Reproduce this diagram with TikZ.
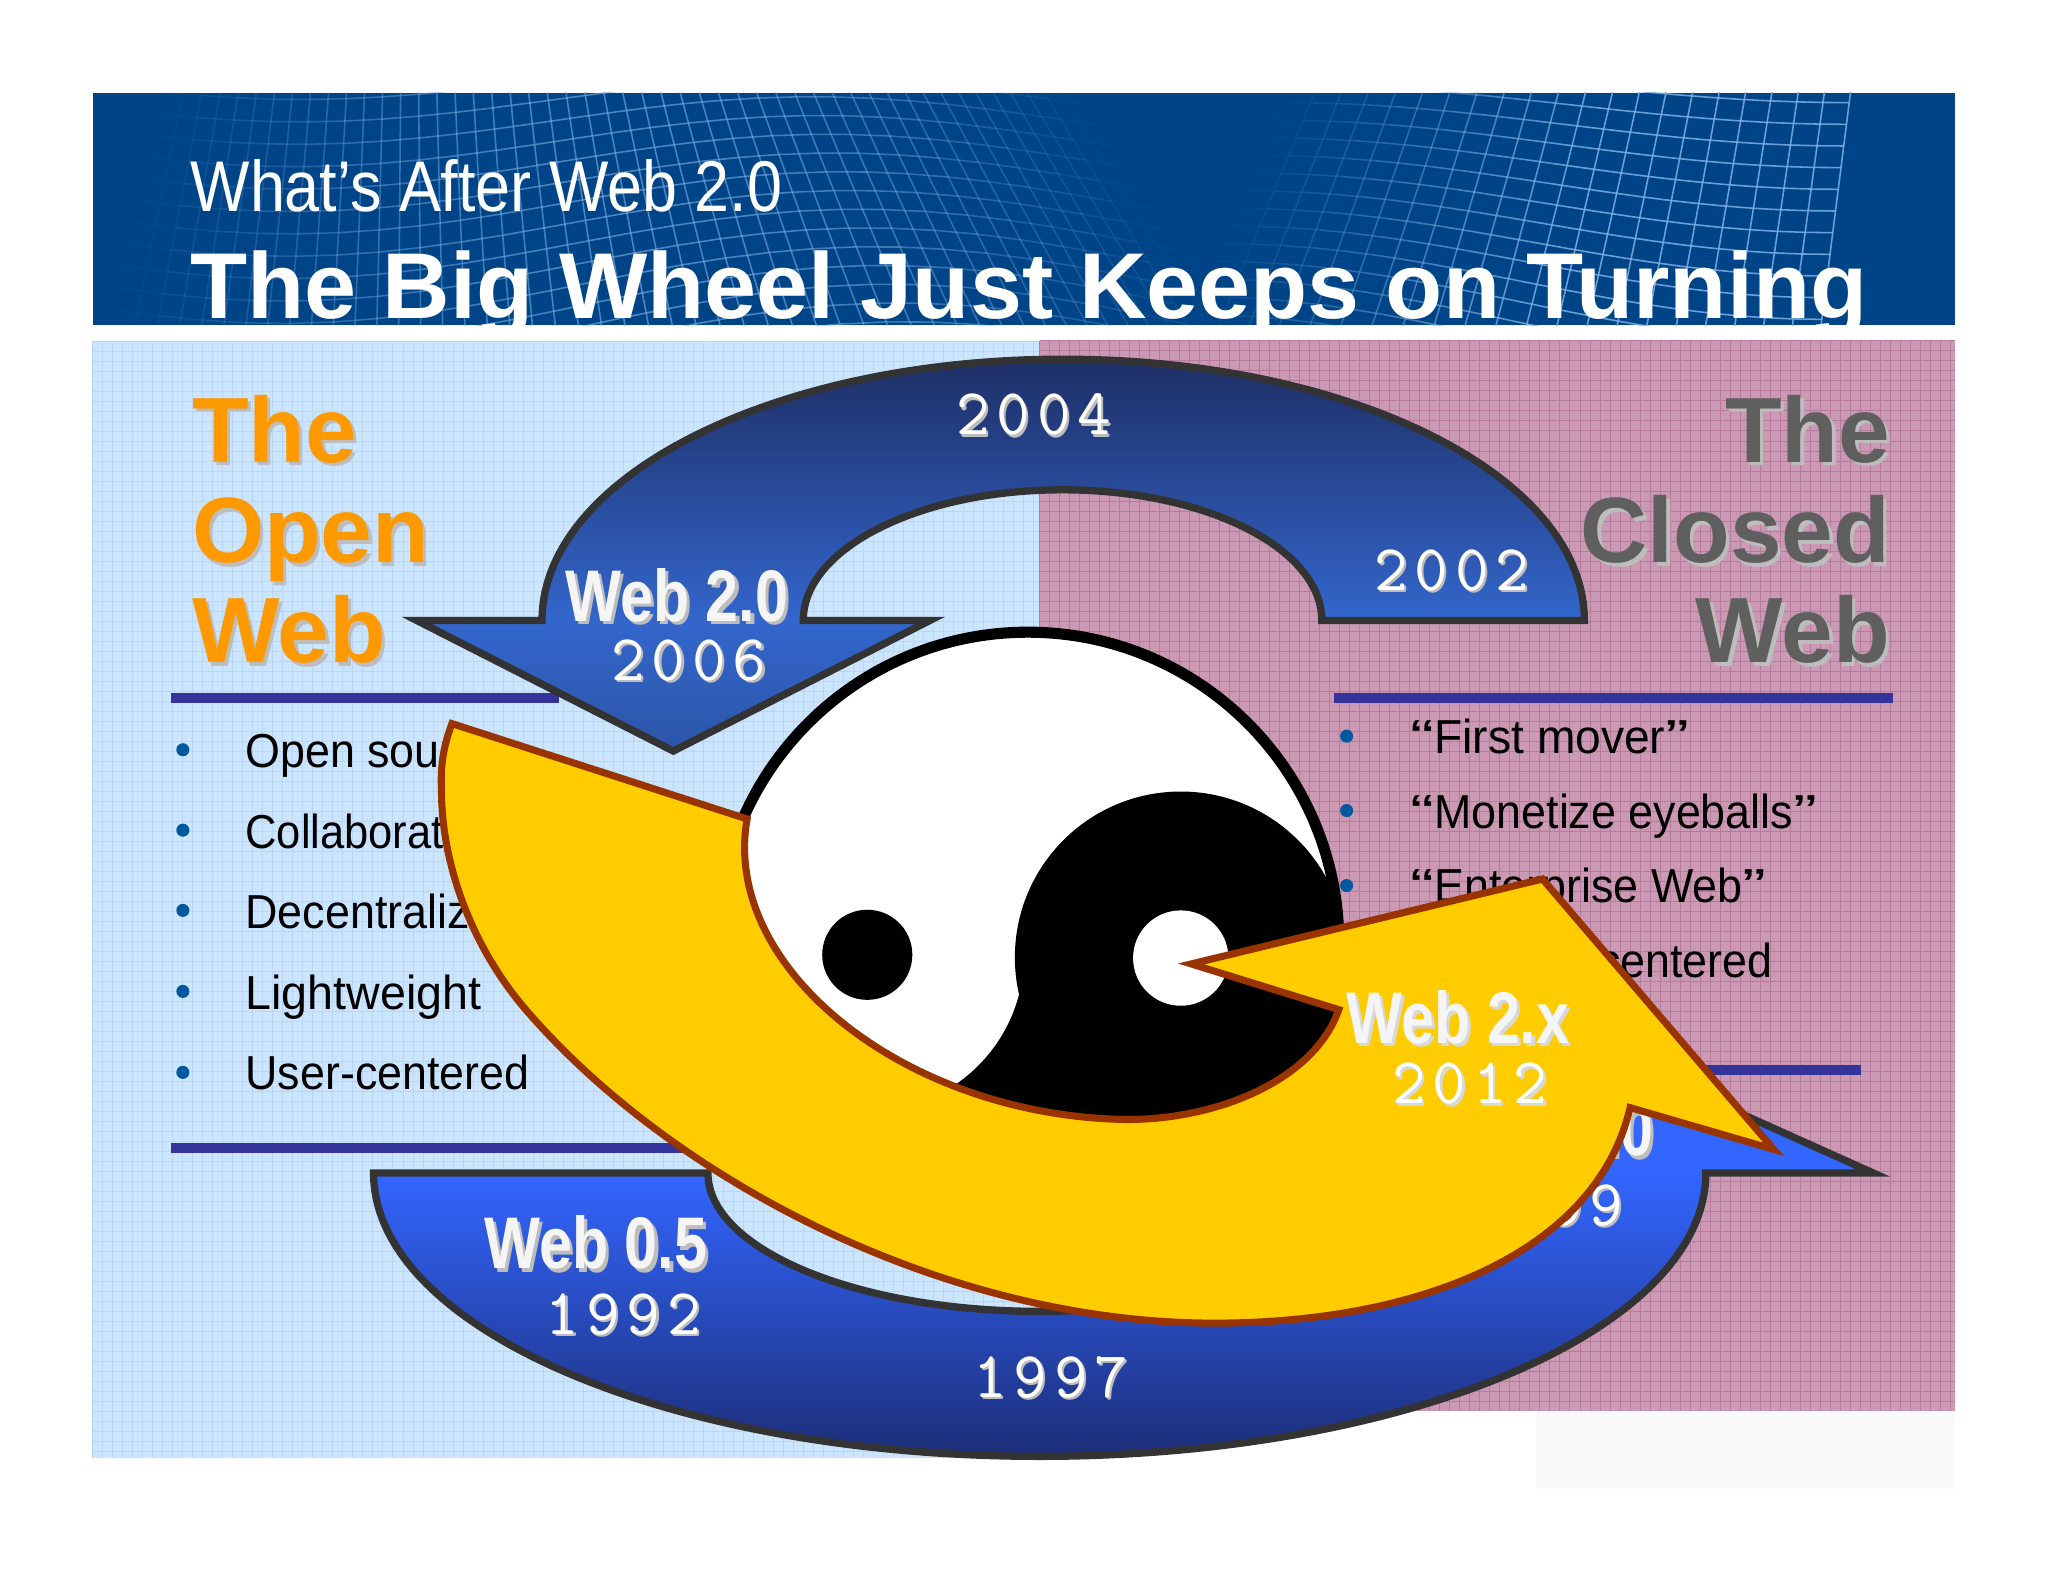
\documentclass[tikz,border=0pt]{standalone}
\usepackage{fontspec}
\setmainfont{Liberation Sans}
\newfontfamily\subfam[FakeStretch=0.875]{Liberation Sans}
\newfontfamily\listfam[FakeStretch=0.94]{Liberation Sans}
\newfontfamily\webfam[FakeStretch=0.81]{Liberation Sans}
\newcommand{\titlef}{\fontsize{35.8}{36}\selectfont\bfseries}
\newcommand{\subf}{\subfam\fontsize{27.5}{28}\selectfont}
\newcommand{\headf}{\fontsize{35.5}{36}\selectfont\bfseries}
\newcommand{\listf}{\listfam\fontsize{18.25}{19}\selectfont}
\newcommand{\webf}{\webfam\fontsize{28}{29}\selectfont\bfseries}
\newcommand{\yearf}{\ttfamily\fontsize{25}{26}\selectfont}
\newcommand{\yr}[4]{\makebox[15.5pt][l]{#1}\makebox[15.5pt][l]{#2}\makebox[15.5pt][l]{#3}#4}
\newcommand{\opq}{\scalebox{1.6}[1]{“}}
\newcommand{\clq}{\scalebox{1.6}[1]{”}}
\definecolor{hdrblue}{HTML}{004488}
\definecolor{meshblue}{HTML}{7FB0E6}
\definecolor{panelL}{HTML}{CCE5FF}
\definecolor{gridL}{HTML}{B9D6F7}
\definecolor{panelR}{HTML}{CC99B5}
\definecolor{gridR}{HTML}{B67A9C}
\definecolor{barblue}{HTML}{333399}
\definecolor{bulletblue}{HTML}{00589E}
\definecolor{headorange}{HTML}{FF9900}
\definecolor{headgray}{HTML}{5F5F5F}
\definecolor{shadowgray}{HTML}{BDBDBD}
\definecolor{lightshadow}{HTML}{D8D8D8}
\definecolor{arrowyellow}{HTML}{FFCC00}
\definecolor{arrowbrown}{HTML}{993300}
\definecolor{arrowline}{HTML}{333333}
\definecolor{faintbox}{HTML}{F9F8FB}
\definecolor{blueA}{HTML}{1E2F66}
\definecolor{blueB}{HTML}{3366CC}
\definecolor{blueC}{HTML}{2C55A8}
\definecolor{blueD}{HTML}{3366FF}
\definecolor{blueE}{HTML}{1C2E78}
\pgfdeclareverticalshading{toparc}{100bp}{color(0bp)=(blueC); color(25bp)=(blueC); color(41.6bp)=(blueB); color(75bp)=(blueA); color(100bp)=(blueA)}
\pgfdeclareverticalshading{botarc}{100bp}{color(0bp)=(blueE); color(25bp)=(blueE); color(57.7bp)=(blueD); color(75bp)=(blueD); color(100bp)=(blueD)}
\pgfmathdeclarefunction{rsx}{2}{\pgfmathparse{1000+418*#1-(30+52*(1-#1))*#2}}
\pgfmathdeclarefunction{rsy}{2}{\pgfmathparse{50+215*#2+(12+22*#2)*sin(180*#1-90)}}
\pgfmathdeclarefunction{rso}{1}{\pgfmathparse{0.85*min(1,#1*1.8)}}
\pgfmathdeclarefunction{lsx}{2}{\pgfmathparse{130+680*#1+#2*(-54+200*#1)}}
\pgfmathdeclarefunction{lsy}{2}{\pgfmathparse{45+225*#2+(14+20*#2)*sin(330*#1+40)}}
\pgfmathdeclarefunction{lso}{1}{\pgfmathparse{0.6*sin(180*#1)}}
\newcommand{\shadlabel}[8]{% name, anchor, x, y, font, colour, shadow, text
  \node[txtnode,anchor=#2,text=#7] (#1-s) at (#3+2.5,#4+2.5) {#5#8};
  \node[txtnode,anchor=#2,text=#6] (#1) at (#3,#4) {#5#8};}
\newcommand{\yrlabel}[5]{% name, x, y, shadow, digits
  \node[txtnode,anchor=base west,text=#4] (#1-s) at (#2+1.8,#3+1.8) {\yearf #5};
  \node[txtnode,anchor=base west,text=white] (#1) at (#2,#3) {\yearf #5};}
\tikzset{
  txtnode/.style={inner sep=0pt,outer sep=0pt},
  meshline/.style={draw=meshblue,line width=0.6pt},
  barrule/.style={fill=barblue},
  bulletdot/.style={fill=bulletblue},
  bluearrow/.style={draw=arrowline,line width=2.8pt,miter limit=10},
  goldarrow/.style={draw=arrowbrown,fill=arrowyellow,line width=2.7pt,miter limit=10},
  listtext/.style={txtnode,anchor=base west,text=black},
}
\begin{document}
\begin{tikzpicture}[x=0.5pt,y=-0.5pt]
\useasboundingbox (0,0) rectangle (1568,1211.2);
\fill[white] (0,0) rectangle (1568,1211.2);
% header
\begin{scope}
\clip (71,71) rectangle (1497,249);
\fill[hdrblue] (71,71) rectangle (1497,249);
\foreach \j in {0,...,15}{
  \pgfmathsetmacro\vv{\j*0.07}
  \foreach \i in {0,...,24}{
    \pgfmathsetmacro\ua{\i*0.04}
    \pgfmathsetmacro\ub{\ua+0.04}
    \pgfmathsetmacro\xa{lsx(\ua,\vv)}\pgfmathsetmacro\ya{lsy(\ua,\vv)}
    \pgfmathsetmacro\xb{lsx(\ub,\vv)}\pgfmathsetmacro\yb{lsy(\ub,\vv)}
    \pgfmathsetmacro\op{lso(\ua+0.02)}
    \draw[meshline,draw opacity=\op] (\xa,\ya) -- (\xb,\yb);
  }
}
\foreach \i in {1,...,49}{
  \pgfmathsetmacro\ua{\i*0.02}
  \pgfmathsetmacro\op{lso(\ua)}
  \foreach \j in {0,...,5}{
    \pgfmathsetmacro\va{\j*0.2}
    \pgfmathsetmacro\vb{\va+0.2}
    \pgfmathsetmacro\xa{lsx(\ua,\va)}\pgfmathsetmacro\ya{lsy(\ua,\va)}
    \pgfmathsetmacro\xb{lsx(\ua,\vb)}\pgfmathsetmacro\yb{lsy(\ua,\vb)}
    \draw[meshline,draw opacity=\op] (\xa,\ya) -- (\xb,\yb);
  }
}
\foreach \j in {0,...,17}{
  \pgfmathsetmacro\vv{\j*0.07}
  \foreach \i in {0,...,19}{
    \pgfmathsetmacro\ua{\i*0.05}
    \pgfmathsetmacro\ub{\ua+0.05}
    \pgfmathsetmacro\xa{rsx(\ua,\vv)}\pgfmathsetmacro\ya{rsy(\ua,\vv)}
    \pgfmathsetmacro\xb{rsx(\ub,\vv)}\pgfmathsetmacro\yb{rsy(\ub,\vv)}
    \pgfmathsetmacro\op{rso(\ua+0.025)}
    \draw[meshline,draw opacity=\op] (\xa,\ya) -- (\xb,\yb);
  }
}
\foreach \i in {1,...,21}{
  \pgfmathsetmacro\ua{\i*0.0476}
  \pgfmathsetmacro\op{rso(\ua)}
  \foreach \j in {0,...,5}{
    \pgfmathsetmacro\va{\j*0.2}
    \pgfmathsetmacro\vb{\va+0.2}
    \pgfmathsetmacro\xa{rsx(\ua,\va)}\pgfmathsetmacro\ya{rsy(\ua,\va)}
    \pgfmathsetmacro\xb{rsx(\ua,\vb)}\pgfmathsetmacro\yb{rsy(\ua,\vb)}
    \draw[meshline,draw opacity=\op] (\xa,\ya) -- (\xb,\yb);
  }
}
\node[txtnode,anchor=base west,text=white] (subtitle) at (146,162) {\subf What’s After Web 2.0};
\node[txtnode,anchor=base west,text=white] (title) at (146,243.6) {\titlef The Big Wheel Just Keeps on Turning};
\end{scope}
% panels
\fill[panelL] (71,261) rectangle (796,1116);
\fill[panelR] (796,261) rectangle (1497,1080.5);
\fill[faintbox] (1176,1080.5) rectangle (1497,1140);
\draw[gridL,line width=0.3pt] \foreach \k in {0,...,94}{ (71+\k*7.66,261) -- ++(0,855) };
\draw[gridL,line width=0.3pt] \foreach \k in {0,...,111}{ (71,261+\k*7.66) -- ++(725,0) };
\draw[gridR,line width=0.35pt] \foreach \k in {0,...,91}{ (796+\k*7.66,261) -- ++(0,819.5) };
\draw[gridR,line width=0.35pt] \foreach \k in {0,...,106}{ (796,261+\k*7.66) -- ++(701,0) };
% headings
\shadlabel{openA}{base west}{147}{354}{\headf}{headorange}{shadowgray}{The}
\shadlabel{openB}{base west}{147}{431}{\headf}{headorange}{shadowgray}{Open}
\shadlabel{openC}{base west}{147}{507.5}{\headf}{headorange}{shadowgray}{Web}
\shadlabel{closedA}{base east}{1447}{354}{\headf}{headgray}{shadowgray}{The}
\shadlabel{closedB}{base east}{1447}{431}{\headf}{headgray}{shadowgray}{Closed}
\shadlabel{closedC}{base east}{1447}{507.5}{\headf}{headgray}{shadowgray}{Web}
% rules
\fill[barrule] (131,530.5) rectangle (428,538);
\fill[barrule] (1021,530.5) rectangle (1449,538);
\fill[barrule] (131,875) rectangle (600,883);
\fill[barrule] (1250,815) rectangle (1425,823);
% lists
\foreach \yy in {574,635.6,697,759,821}{\fill[bulletdot] (140,\yy) circle[radius=5];}
\foreach \yy in {563.6,620.6,678}{\fill[bulletdot] (1031,\yy) circle[radius=5];}
\node[listtext] (l1) at (188,587.7) {\listf Open source};
\node[listtext] (l2) at (188,649.5) {\listf \scalebox{0.97}[1]{Collaborative}};
\node[listtext] (l3) at (188,711) {\listf Decentralized};
\node[listtext] (l4) at (188,772.8) {\listf \scalebox{1.04}[1]{Lightweight}};
\node[listtext] (l5) at (188,834.5) {\listf User-centered};
\node[listtext] (r1) at (1080,577) {\listf \opq\scalebox{1.03}[1]{First mover}\clq};
\node[listtext] (r2) at (1080,634) {\listf \opq Monetize eyeballs\clq};
\node[listtext] (r3) at (1080,691) {\listf \opq Enterprise Web\clq};
\node[listtext,anchor=base east] (r4) at (1357,748) {\listf Vendor-centered};
% top blue arrow
\path[shading=toparc,bluearrow,draw] (415,475) arc[start angle=180,end angle=360,x radius=399,y radius=200] -- (1012,475) arc[start angle=0,end angle=-180,x radius=198.5,y radius=100] -- (712,475) -- (515.5,575) -- (319,475) -- cycle;
\shadlabel{web20}{base west}{433}{476}{\webf}{white!96!black}{shadowgray}{Web 2.0}
\yrlabel{y2006}{468}{521}{shadowgray}{\yr2006}
\yrlabel{y2004}{732}{333}{shadowgray}{\yr2004}
\yrlabel{y2002}{1052}{452}{shadowgray}{\yr2002}
% bottom blue arrow
\path[shading=botarc,bluearrow,draw] (286,898) arc[start angle=180,end angle=0,x radius=510,y radius=217] -- (1434,898) -- (1178,783) -- (924,898) -- (1050,898) arc[start angle=0,end angle=180,x radius=254,y radius=106] -- cycle;
\shadlabel{web05}{base west}{371}{971.5}{\webf}{white!96!black}{shadowgray}{Web 0.5}
\yrlabel{y1992}{418}{1021.7}{shadowgray}{\yr1992}
\yrlabel{y1997}{745}{1070}{shadowgray}{\yr1997}
\shadlabel{web10}{base east}{1266}{885}{\webf}{white!96!black}{shadowgray}{Web 1.0}
\yrlabel{y1999}{1124}{938}{shadowgray}{\yr1999}
% yin-yang
\draw[black,fill=white,line width=4.25pt] (787,722) circle[radius=238];
\begin{scope}
\clip (787,722) circle[radius=238];
\fill[black] (500,733) rectangle (1100,1000);
\fill[white] (664,731) circle[radius=120];
\fill[black] (904,733) circle[radius=127];
\end{scope}
\fill[black] (664,731) circle[radius=34.5];
\fill[white] (904,733.5) circle[radius=36.5];
% gold arrow
\draw[goldarrow] (572,627) .. controls (552,740) and (690,852) .. (857,857)
  .. controls (925,859) and (1005,830) .. (1025,773)
  -- (912,738) -- (1181,673) -- (1358,880) -- (1248,848)
  .. controls (1222,960) and (1085,1013) .. (930,1013)
  .. controls (720,1013) and (510,900) .. (400,770)
  .. controls (360,722) and (338,660) .. (338,605)
  .. controls (337,585) and (340,570) .. (346,554)
  -- cycle;
\shadlabel{web2x}{base west}{1031}{798.6}{\webf}{white!96!black}{lightshadow}{Web 2.x}
\yrlabel{y2012}{1066}{845}{lightshadow}{\yr2012}
\end{tikzpicture}
\end{document}
